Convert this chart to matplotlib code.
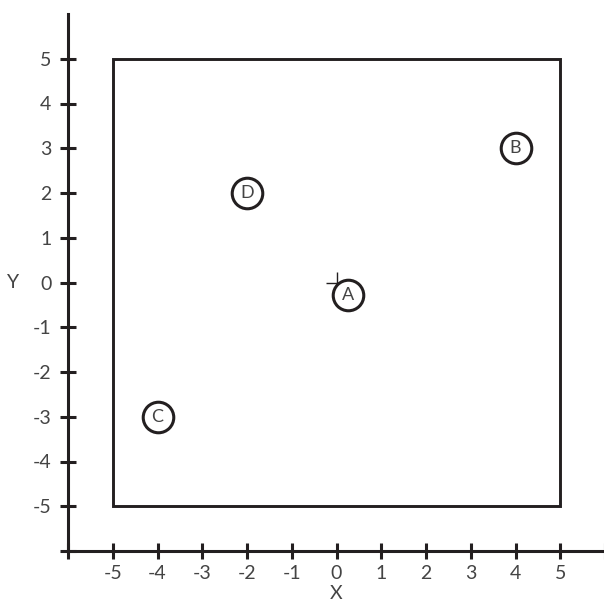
import matplotlib.pyplot as plt
from matplotlib.patches import Rectangle

plt.rcParams['font.family'] = ['Lato', 'DejaVu Sans']

# points on the map
names = ['A', 'B', 'C', 'D']
xs = [0.25, 4.0, -4.0, -2.0]
ys = [-0.28, 3.0, -3.0, 2.0]
origin = (0, 0)
x_ticks = list(range(-6, 7))
y_ticks = list(range(-6, 6))
tick_labels_x = ['' if t in (-6, 6) else str(t) for t in x_ticks]
tick_labels_y = ['' if t == -6 else str(t) for t in y_ticks]

ink = '#231f20'
txt = '#444444'

fig = plt.figure(figsize=(6.04, 6.04), dpi=100)
ax = fig.add_axes([68 / 604, 53 / 604, 537 / 604, 537 / 604])
ax.set_xlim(-6, 6)
ax.set_ylim(-6, 6)

for side in ['top', 'right']:
    ax.spines[side].set_visible(False)
for side in ['left', 'bottom']:
    ax.spines[side].set_linewidth(2.2)
    ax.spines[side].set_color(ink)

ax.set_xticks(x_ticks)
ax.set_xticklabels(tick_labels_x)
ax.set_yticks(y_ticks)
ax.set_yticklabels(tick_labels_y)
ax.tick_params(direction='inout', length=12, width=2.2, color=ink,
               labelsize=14, labelcolor=txt)
ax.tick_params(axis='x', pad=4)
ax.tick_params(axis='y', pad=6)

ax.set_xlabel('X', fontsize=14, color=txt, labelpad=2)
ax.set_ylabel('Y', fontsize=14, color=txt, rotation=0, labelpad=14, va='center')

# square boundary
ax.add_patch(Rectangle((-5, -5), 10, 10, fill=False, lw=2.1, ec=ink, zorder=2))

# origin cross
ax.plot(*origin, marker='+', ms=16, mew=1.0, color=ink, zorder=3)

# labelled circles
ax.scatter(xs, ys, s=22 ** 2, facecolor='white', edgecolor=ink, linewidth=2.2, zorder=4)
for n, x, y in zip(names, xs, ys):
    ax.text(x, y, n, ha='center', va='center', fontsize=13, color=txt, zorder=5)

fig.savefig('out.png', dpi=100)
